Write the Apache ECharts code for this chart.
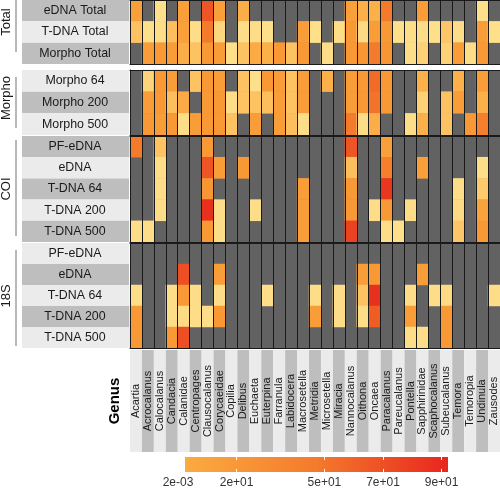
<!DOCTYPE html>
<html><head><meta charset="utf-8">
<script src="https://cdn.jsdelivr.net/npm/echarts@6/dist/echarts.min.js"></script>
<style>html,body{margin:0;padding:0;background:#fff}#c{width:500px;height:489px}</style>
</head><body><div id="c"></div>
<script>
const genera = ['Acartia','Acrocalanus','Calocalanus','Candacia','Calanidae','Centropages','Clausocalanus','Corycaeidae','Copilia','Delibus','Euchaeta','Euterpina','Farranula','Labidocera','Macrosetella','Metridia','Microsetella','Miracia','Nannocalanus','Oithona','Oncaea','Paracalanus','Pareucalanus','Pontella','Sapphirinidae','Scaphocalanus','Subeucalanus','Temora','Temoropia','Undinula','Zausodes'];
const totalRows = ['eDNA Total','T-DNA Total','Morpho Total'];
const morphoRows = ['Morpho 64','Morpho 200','Morpho 500'];
const coiRows = ['PF-eDNA','eDNA','T-DNA 64','T-DNA 200','T-DNA 500'];
const s18Rows = ['PF-eDNA','eDNA','T-DNA 64','T-DNA 200','T-DNA 500'];
const _ = null;
// columns:   Aca Acr Cal Can Cln Cen Cla Cor Cop Del Euc Eut Far Lab Mac Met Mic Mir Nan Oit Onc Par Pare Pon Sap Sca Sub Tem Tmp Und Zau
const totalVals = [
  [40, _, 2, _,40, _,70,40, _,32, _, _, _, _, _, _, _, _,40,30,30,60, _, _,42, _, _, _, _, 3, _],
  [20, 3, 4,22,40, 4,60, 8, _, 4, 4, 3, _, _,42, 3, _, 4,44, 6,42,44, 3, 4, 4, 3,18, 4, _,42, 3],
  [ _,42,44,42,32,20,44,42, 3,20,34,30,44,20,44, _, 4, _,44,46,60,46, _, 4,12, _,12,42, 4,44, _]
];
const morphoVals = [
  [ _,10,44,42, _,20,44,42, _,20, 3,44,42,20,42, _,30, _,42,44,64,44, _, _,30, _, _,30, _,42, _],
  [ _,42,44,22,34, _,44,44, 4,20,20,22,42,20,42, _, _, _,42,44,62,44, _, _,12, _,20,42, _,30, _],
  [ _,44,42,44, 4,42,44,44,20, _,42, _,42,22, 4, _, _, _,60, 4,32, _, _, 4,30, _,20, _,44,58, _]
];
const coiVals = [
  [60, _,20, _, _, _,44, _, _, _, _, _, _, _, _, _, _, _,70, _, _,40, _, _, _, _, _, _, _, _, _],
  [ _, _, 4, _, _, _,70,42, _,44, _, _, _, _, _, _, _, _,22, _, _,58, _, _,40, _, _, _, _, 4, _],
  [ _, _, 4, _, _, _,46, _, _, _, _, _, _, _,42, _, _, _,44, _, _,78, _, _, _, _, _, 4, _,16, _],
  [ _, _, 4, _, _, _,82, 4, _, _, 4, _, _, _,42, _, _, _,44, _, 4,44, _, 4, _, _, _, 6, _,38, _],
  [ 4, 4, _, _, _, _,44, 4, _, _, _, _, _, _,42, _, _, _,75, _, _, 4, 3, _, _, _, _,18, _,44, _]
];
const s18Vals = [
  [ _, _, _, _, _, _, _, _, _, _, _, _, _, _, _, _, _, _, _, _, _, _, _, _, _, _, _, _, _, _, _],
  [ _, _, _, _,72, _, _,42, _, _, _, _, _, _, _, _, _, _, _,42,44, _, _, _,42, _, _, _, _, _, _],
  [ 4, _, _, 4,44, 4, _, 4, _, _, _, 4, _, _, _, 4, _, 4, _,20,82, _, _, 4, _, 4, 6, _, _, _, 4],
  [44, _, _, 4, 6, 4, 4,44, _, _, _, _, _, _, _,42, _, 4, _, 4,68, _, _,42, _, _,44, _, _, _, _],
  [44, _, _,44,72, _, _, _, _, _, _, _, _, _, _, _, _, _, _, _, _, _, _, 4, 4, _,44, _, _, _, _]
];
const legendTicks = [0.002, 20, 50, 70, 90];
const cellColors = ['#fee391','#fdd47a','#fdc363','#fcb04a','#f9a03a','#f78f30','#f47b2b','#ee5524','#e8301e'];

const FONT = '"Liberation Sans", Arial, Helvetica, sans-serif';
const INK = '#1a1a1a';
const panels = [
  {name:'Total', rows: totalRows, vals: totalVals, top:0, height:64, bands:['#bebebe','#ebebeb']},
  {name:'Morpho', rows: morphoRows, vals: morphoVals, top:70, height:65, bands:['#ebebeb','#bebebe']},
  {name:'COI', rows: coiRows, vals: coiVals, top:136, height:106, bands:['#bebebe','#ebebeb']},
  {name:'18S', rows: s18Rows, vals: s18Vals, top:243, height:105, bands:['#ebebeb','#bebebe']}
];
const grid = [], xAxis = [], yAxis = [], series = [];
const border = {show:true, lineStyle:{color:INK, width:1}};
panels.forEach((p, i) => {
  const last = i === panels.length - 1;
  grid.push({left:130, right:0, top:p.top, height:p.height, show:true, backgroundColor:'#626262', borderWidth:0});
  xAxis.push({type:'category', gridIndex:i, data:genera, position:'bottom', z:10,
    axisLine:border, axisTick:{show:false},
    axisLabel: last ? {interval:0, rotate:90, align:'center', verticalAlign:'middle', margin:53, fontSize:11, color:INK, fontFamily:FONT} : {show:false},
    splitLine:{show:true, interval:0, lineStyle:{color:INK, width:1}}});
  xAxis.push({type:'category', gridIndex:i, data:genera, position:'top', z:10,
    axisLine:border, axisTick:{show:false}, axisLabel:{show:false}, splitLine:{show:false}});
  yAxis.push({type:'category', gridIndex:i, data:p.rows, inverse:true, z:10,
    axisLine:border, axisTick:{show:false},
    axisLabel:{interval:0, align:'center', margin:55, fontSize:12.4, color:INK, fontFamily:FONT}});
  const data = [];
  p.vals.forEach((row, r) => row.forEach((v, c) => { if (v !== null) data.push([c, r, v]); }));
  series.push({type:'heatmap', xAxisIndex:2*i, yAxisIndex:i, data, itemStyle:{borderWidth:0}, emphasis:{disabled:true}, progressive:0});
});
// row label backgrounds
panels.forEach((p, i) => {
  grid.push({left:22, width:107, top:p.top, height:p.height, show:false});
  xAxis.push({type:'value', gridIndex:4+i, show:false});
  yAxis.push({type:'category', gridIndex:4+i, data:p.rows, inverse:true, z:0,
    axisLine:{show:false}, axisTick:{show:false}, axisLabel:{show:false},
    splitArea:{show:true, interval:0, areaStyle:{color:p.bands}}});
});
// column label background
grid.push({left:130, right:0, top:350, height:102, show:false});
xAxis.push({type:'category', gridIndex:8, data:genera, z:0, axisLine:{show:false}, axisTick:{show:false}, axisLabel:{show:false},
  splitArea:{show:true, interval:0, areaStyle:{color:['#ebebeb','#bebebe']}}});
yAxis.push({type:'value', gridIndex:8, axisLine:{show:false}, axisTick:{show:false}, axisLabel:{show:false}, splitLine:{show:false},
  name:'Genus', nameLocation:'middle', nameRotate:90, nameGap:8,
  nameTextStyle:{fontWeight:'bold', fontSize:15, color:'#000', fontFamily:FONT}});
// colour bar (gradient) and its scale
const fmt = v => v.toExponential(0).replace(/e([+-])(\d)$/, 'e$10$2');
grid.push({left:185, width:263, top:457, height:15, show:true, borderWidth:0,
  backgroundColor: new echarts.graphic.LinearGradient(0,0,1,0,[{offset:0,color:'#fbab40'},{offset:0.5,color:'#f47a2c'},{offset:1,color:'#e8261e'}])});
xAxis.push({type:'value', gridIndex:9, show:false});
yAxis.push({type:'value', gridIndex:9, show:false});
grid.push({left:178, width:270, top:457, height:15, show:false});
xAxis.push({type:'value', gridIndex:10, min:0, max:92.2, position:'bottom', z:5, axisLine:{show:false}, splitLine:{show:false},
  axisTick:{show:true, inside:true, length:3, customValues:[20,50,70,90], lineStyle:{color:'#fff', width:1}},
  axisLabel:{customValues:legendTicks, formatter:fmt, margin:5, fontSize:12, color:'#333', fontFamily:FONT}});
xAxis.push({type:'value', gridIndex:10, min:0, max:92.2, position:'top', z:5, axisLine:{show:false}, splitLine:{show:false},
  axisTick:{show:true, inside:true, length:3, customValues:[20,50,70,90], lineStyle:{color:'#fff', width:1}}, axisLabel:{show:false}});
yAxis.push({type:'value', gridIndex:10, show:false});

const strips = [
  {t:'Total', y:22, y1:0, y2:52},
  {t:'Morpho', y:98, y1:77, y2:128},
  {t:'COI', y:189, y1:140, y2:236},
  {t:'18S', y:296, y1:250, y2:346}
];
const graphic = [];
strips.forEach(s => {
  graphic.push({type:'text', x:6, y:s.y, rotation:Math.PI/2, style:{text:s.t, font:'13px ' + FONT, fill:INK, align:'center', verticalAlign:'middle'}});
  graphic.push({type:'line', shape:{x1:16, y1:s.y1, x2:16, y2:s.y2}, style:{stroke:'#a0a0a0', lineWidth:1.5}});
});

const chart = echarts.init(document.getElementById('c'), null, {renderer:'canvas'});
chart.setOption({
  animation:false,
  grid, xAxis, yAxis, series, graphic,
  visualMap:{show:false, type:'continuous', min:0, max:80, seriesIndex:[0,1,2,3], inRange:{color:cellColors}}
});
</script></body></html>
